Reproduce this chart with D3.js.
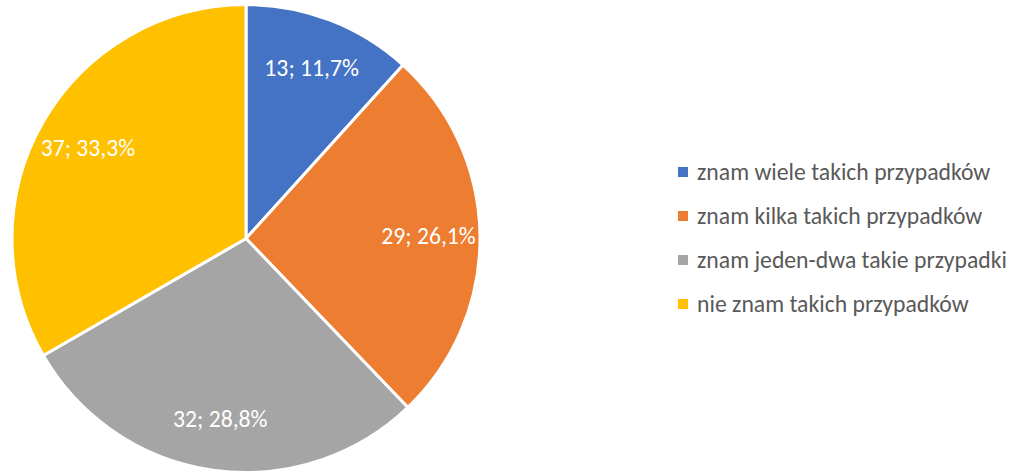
<!DOCTYPE html>
<html>
<head>
<meta charset="utf-8">
<script src="https://cdn.jsdelivr.net/npm/d3@7"></script>
<style>
  html, body { margin: 0; padding: 0; background: #fff; }
  svg text { font-family: Calibri, Carlito, "Noto Sans", sans-serif; }
</style>
</head>
<body>
<div id="chart"></div>
<script>
// Data
var categories = [
  'znam wiele takich przypadków',
  'znam kilka takich przypadków',
  'znam jeden-dwa takie przypadki',
  'nie znam takich przypadków'
];
var counts = [13, 29, 32, 37];
var shares = ['11,7%', '26,1%', '28,8%', '33,3%'];
var colors = ['#4472C4', '#ED7D31', '#A5A5A5', '#FFC000'];

(function() {
  var w = 1017, h = 472;
  var cx = 246, cy = 238.5, r = 234;

  var svg = d3.select('#chart')
    .append('svg').attr('width', w).attr('height', h);

  var rows = categories.map(function(c, i) {
    return { name: c, value: counts[i], share: shares[i], color: colors[i] };
  });

  var pie = d3.pie().sort(null).value(function(d) { return d.value; });
  var arc = d3.arc().innerRadius(0).outerRadius(r);
  var labelArc = d3.arc().innerRadius(r * 0.78).outerRadius(r * 0.78);

  var g = svg.append('g').attr('transform', 'translate(' + cx + ',' + cy + ')');

  var slices = pie(rows);

  g.selectAll('path').data(slices).enter().append('path')
    .attr('d', arc)
    .attr('fill', function(d) { return d.data.color; })
    .attr('stroke', '#fff')
    .attr('stroke-width', 3)
    .attr('stroke-linejoin', 'round');

  // Slice labels
  g.selectAll('text.lbl').data(slices).enter().append('text')
    .attr('class', 'lbl')
    .attr('transform', function(d) { return 'translate(' + labelArc.centroid(d) + ')'; })
    .attr('text-anchor', 'middle')
    .attr('dy', '0.35em')
    .attr('fill', '#fff')
    .style('font-size', '23.7px')
    .text(function(d) { return d.data.value + '; ' + d.data.share; });

  // Legend
  var legend = svg.append('g').attr('transform', 'translate(678,172)');
  var item = legend.selectAll('g').data(rows).enter().append('g')
    .attr('transform', function(d, i) { return 'translate(0,' + (i * 44) + ')'; });

  item.append('rect')
    .attr('x', 0).attr('y', -5)
    .attr('width', 10).attr('height', 10)
    .attr('fill', function(d) { return d.color; });

  item.append('text')
    .attr('x', 19)
    .attr('dy', '0.35em')
    .attr('fill', '#595959')
    .style('font-size', '23.7px')
    .text(function(d) { return d.name; });
})();
</script>
</body>
</html>
